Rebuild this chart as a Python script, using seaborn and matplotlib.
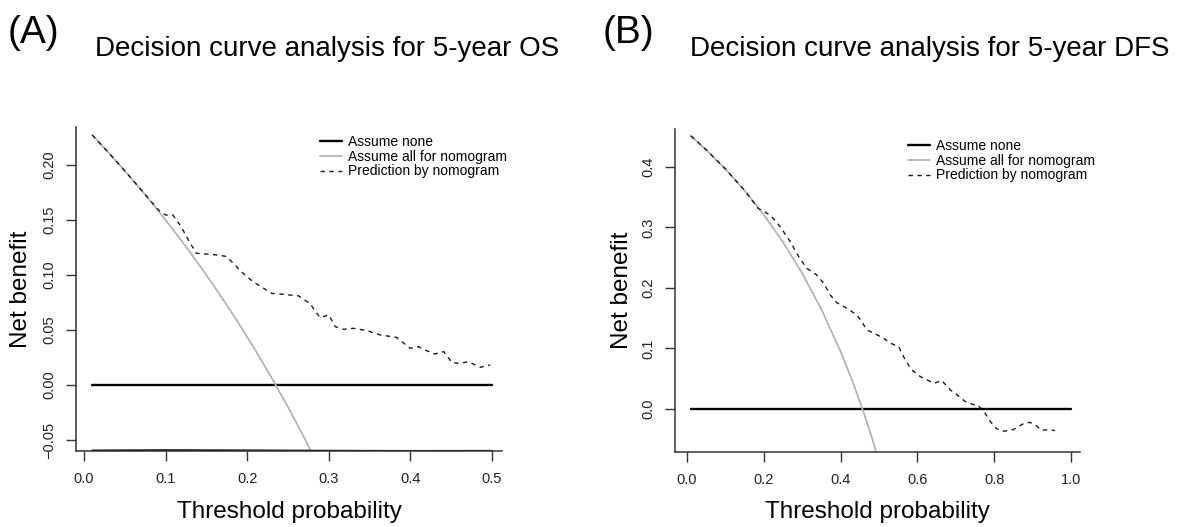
import numpy as np
import pandas as pd
import matplotlib
matplotlib.use("Agg")
import matplotlib.pyplot as plt
import seaborn as sns

# ---- data ----
# (A) 5-year OS
os_none_x = [0.01, 0.5]
os_none_y = [0.0, 0.0]

os_all_x = [0.01, 0.03, 0.05, 0.07, 0.09, 0.11, 0.13, 0.15, 0.17, 0.19,
            0.21, 0.23, 0.25, 0.27, 0.29]
os_all_y = [0.2273, 0.2113, 0.1947, 0.1774, 0.1593, 0.1404, 0.1207, 0.1000,
            0.0783, 0.0556, 0.0316, 0.0065, -0.0200, -0.0480, -0.0775]

os_nomo_x = [0.01, 0.03, 0.05, 0.07, 0.093, 0.100, 0.109, 0.119, 0.130, 0.138,
             0.150, 0.166, 0.175, 0.183, 0.195, 0.207, 0.220, 0.230, 0.244,
             0.263, 0.277, 0.289, 0.300, 0.308, 0.318, 0.330, 0.347, 0.363,
             0.383, 0.400, 0.410, 0.420, 0.430, 0.441, 0.451, 0.461, 0.471,
             0.486, 0.498]
os_nomo_y = [0.2273, 0.2113, 0.1947, 0.1774, 0.1576, 0.1545, 0.1545, 0.1440,
             0.1290, 0.1197, 0.1190, 0.1180, 0.1167, 0.1106, 0.1015, 0.0940,
             0.0880, 0.0833, 0.0824, 0.0810, 0.0740, 0.0615, 0.0636, 0.0530,
             0.0506, 0.0515, 0.0494, 0.0455, 0.0433, 0.0333, 0.0348, 0.0312,
             0.0282, 0.0303, 0.0203, 0.0197, 0.0212, 0.0161, 0.0182]

# dark line hugging the bottom of panel A
os_low_x = [0.01, 0.1, 0.2, 0.3, 0.4, 0.5]
os_low_y = [-0.0597, -0.0594, -0.0596, -0.0599, -0.0601, -0.0600]

# (B) 5-year DFS
dfs_none_x = [0.01, 1.0]
dfs_none_y = [0.0, 0.0]

dfs_all_x = [0.01, 0.05, 0.10, 0.15, 0.20, 0.25, 0.30, 0.35, 0.40, 0.43,
             0.46, 0.48, 0.50]
dfs_all_y = [0.4515, 0.4284, 0.3967, 0.3612, 0.3212, 0.2760, 0.2243, 0.1646,
             0.0950, 0.0474, -0.0056, -0.0442, -0.0860]

dfs_nomo_x = [0.01, 0.05, 0.10, 0.15, 0.186, 0.1995, 0.221, 0.243, 0.269,
              0.291, 0.312, 0.338, 0.356, 0.373, 0.390, 0.416, 0.442, 0.455,
              0.468, 0.490, 0.512, 0.529, 0.551, 0.568, 0.585, 0.607, 0.633,
              0.646, 0.663, 0.685, 0.703, 0.724, 0.746, 0.759, 0.776, 0.789,
              0.807, 0.824, 0.850, 0.876, 0.893, 0.911, 0.924, 0.941, 0.958]
dfs_nomo_y = [0.4515, 0.4284, 0.3967, 0.3612, 0.3310, 0.3275, 0.3176, 0.3010,
              0.2764, 0.2516, 0.2324, 0.2214, 0.2077, 0.1885, 0.1758, 0.1665,
              0.1555, 0.1445, 0.1308, 0.1242, 0.1170, 0.1088, 0.1033, 0.0813,
              0.0648, 0.0538, 0.0456, 0.0429, 0.0473, 0.0319, 0.0236, 0.0126,
              0.0071, 0.0055, -0.0066, -0.0203, -0.0330, -0.0368, -0.0341,
              -0.0242, -0.0220, -0.0286, -0.0352, -0.0341, -0.0357]

legend_labels = ["Assume none", "Assume all for nomogram", "Prediction by nomogram"]

sns.set_theme(style="ticks")
plt.rcParams['font.family'] = ['Liberation Sans', 'DejaVu Sans']
plt.rcParams['axes.unicode_minus'] = True
plt.rcParams['text.color'] = 'black'
plt.rcParams['axes.labelcolor'] = 'black'

W, H = 1178, 527
fig = plt.figure(figsize=(W / 100, H / 100), dpi=100)
fig.patch.set_facecolor("white")


def px_axes(x0, y0, x1, y1):
    return fig.add_axes([x0 / W, 1 - y1 / H, (x1 - x0) / W, (y1 - y0) / H])


def draw_panel(ax, none_x, none_y, all_x, all_y, nomo_x, nomo_y):
    sns.lineplot(x=none_x, y=none_y, ax=ax, color="black", linewidth=1.7,
                 label=legend_labels[0])
    sns.lineplot(x=all_x, y=all_y, ax=ax, color="#b4b4b4", linewidth=1.3,
                 label=legend_labels[1])
    sns.lineplot(x=nomo_x, y=nomo_y, ax=ax, color="#1a1a1a", linewidth=1.0,
                 linestyle=(0, (3.2, 3.2)), label=legend_labels[2])


def style_axes(ax, xticks, yticks, yfmt, lab_x, lab_y):
    for s in ["top", "right"]:
        ax.spines[s].set_visible(False)
    for s in ["left", "bottom"]:
        ax.spines[s].set_color("#333333")
        ax.spines[s].set_linewidth(1.1)
    ax.set_xticks(xticks)
    ax.set_yticks(yticks)
    ax.set_xticklabels([f"{v:.1f}" for v in xticks])
    ax.set_yticklabels([yfmt.format(v).replace("-", "\u2212") for v in yticks],
                       rotation=90, va="center")
    ax.tick_params(axis="both", direction="out", length=7, width=1.0,
                   color="#333333", labelsize=10.5, labelcolor="#222222")
    ax.tick_params(axis="x", pad=8)
    ax.tick_params(axis="y", pad=7)
    ax.set_xlabel("Threshold probability", fontsize=17.5, color="black")
    ax.set_ylabel("Net benefit", fontsize=17.5, color="black")
    ax.xaxis.set_label_coords(0.5, lab_x)
    ax.xaxis.label.set_va("center")
    ax.yaxis.set_label_coords(lab_y, 0.5)
    ax.yaxis.label.set_va("center")
    ax.yaxis.label.set_ha("center")
    ax.grid(False)


def put_legend(ax, x_px, y_px):
    leg = ax.legend(loc="upper left", bbox_to_anchor=(x_px / W, 1 - y_px / H),
                    bbox_transform=fig.transFigure, frameon=False, fontsize=10,
                    handlelength=1.6, handletextpad=0.4, labelspacing=0.05,
                    borderpad=0, borderaxespad=0)
    for t in leg.get_texts():
        t.set_color("black")


# panel A
axA = px_axes(76, 127, 502, 451)
draw_panel(axA, os_none_x, os_none_y, os_all_x, os_all_y, os_nomo_x, os_nomo_y)
sns.lineplot(x=os_low_x, y=os_low_y, ax=axA, color="black", linewidth=1.6,
             legend=False)
axA.set_xlim(-0.0098, 0.5123)
axA.set_ylim(-0.0600, 0.2345)
style_axes(axA, [0.0, 0.1, 0.2, 0.3, 0.4, 0.5],
           [-0.05, 0.0, 0.05, 0.10, 0.15, 0.20], "{:.2f}",
           -(512 - 451) / 324, (21 - 76) / 426)
put_legend(axA, 320, 135)

# panel B
axB = px_axes(675, 129, 1080, 452)
draw_panel(axB, dfs_none_x, dfs_none_y, dfs_all_x, dfs_all_y, dfs_nomo_x, dfs_nomo_y)
axB.set_xlim(-0.03125, 1.0234)
axB.set_ylim(-0.0711, 0.4628)
style_axes(axB, [0.0, 0.2, 0.4, 0.6, 0.8, 1.0],
           [0.0, 0.1, 0.2, 0.3, 0.4], "{:.1f}",
           -(512 - 452) / 323, (622 - 675) / 405)
put_legend(axB, 908, 139)

# panel titles
fig.text(8 / W, 1 - 43 / H, "(A)", fontsize=28, va="baseline", ha="left", color="black")
fig.text(95 / W, 1 - 56 / H, "Decision curve analysis for 5-year OS",
         fontsize=20, va="baseline", ha="left", color="black")
fig.text(603 / W, 1 - 43 / H, "(B)", fontsize=28, va="baseline", ha="left", color="black")
fig.text(690 / W, 1 - 56 / H, "Decision curve analysis for 5-year DFS",
         fontsize=20, va="baseline", ha="left", color="black")

fig.savefig("out.png", dpi=100, facecolor="white")
